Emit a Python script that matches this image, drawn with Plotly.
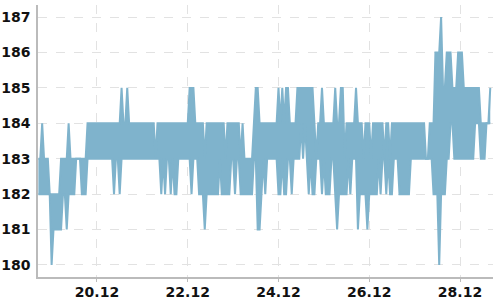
import pandas as pd
import plotly.graph_objects as go

START = "2022-12-18 17:00"

LOW = [
    182, 182, 182, 182, 182, 182, 182, 180, 181, 181,
    181, 181, 181, 182, 182, 181, 182, 182, 182, 182,
    183, 183, 183, 182, 182, 182, 183, 183, 183, 183,
    183, 183, 183, 183, 183, 183, 183, 183, 183, 183,
    182, 183, 183, 182, 183, 183, 183, 183, 183, 183,
    183, 183, 183, 183, 183, 183, 183, 183, 183, 183,
    183, 183, 183, 183, 183, 182, 183, 182, 183, 183,
    182, 183, 182, 182, 183, 183, 183, 183, 183, 183,
    183, 182, 183, 183, 183, 182, 182, 182, 181, 182,
    182, 182, 182, 182, 182, 182, 183, 182, 182, 182,
    182, 182, 183, 183, 182, 183, 183, 182, 182, 182,
    182, 182, 182, 182, 183, 183, 181, 181, 182, 183,
    182, 183, 183, 183, 183, 183, 183, 182, 182, 183,
    182, 182, 183, 183, 182, 183, 183, 183, 183, 184,
    183, 184, 183, 182, 183, 182, 182, 183, 183, 183,
    182, 183, 182, 182, 182, 183, 183, 182, 181, 182,
    182, 182, 182, 182, 183, 182, 183, 183, 183, 181,
    182, 182, 182, 182, 181, 182, 182, 182, 182, 182,
    183, 182, 183, 183, 182, 183, 182, 182, 183, 183,
    183, 182, 182, 182, 182, 182, 182, 183, 183, 183,
    183, 183, 183, 183, 183, 183, 183, 183, 183, 182,
    182, 182, 180, 182, 182, 182, 183, 183, 184, 184,
    183, 183, 183, 183, 183, 183, 183, 183, 183, 183,
    183, 184, 184, 184, 183, 183, 183, 184, 184, 184,
]

HIGH = [
    183, 183, 184, 183, 183, 183, 182, 182, 182, 182,
    182, 182, 183, 183, 183, 183, 184, 183, 183, 183,
    183, 183, 183, 183, 183, 183, 184, 184, 184, 184,
    184, 184, 184, 184, 184, 184, 184, 184, 184, 184,
    184, 184, 184, 184, 185, 184, 184, 185, 184, 184,
    184, 184, 184, 184, 184, 184, 184, 184, 184, 184,
    184, 184, 183, 184, 184, 184, 184, 184, 184, 184,
    184, 184, 184, 184, 184, 184, 184, 184, 184, 184,
    185, 185, 185, 184, 184, 184, 184, 184, 183, 184,
    184, 184, 184, 184, 184, 184, 184, 184, 184, 183,
    184, 184, 184, 184, 184, 184, 184, 183, 184, 183,
    183, 183, 183, 183, 184, 185, 185, 184, 184, 184,
    184, 184, 184, 184, 184, 184, 184, 185, 184, 185,
    184, 185, 185, 184, 184, 184, 184, 185, 185, 185,
    185, 185, 185, 185, 185, 185, 184, 183, 184, 184,
    185, 184, 184, 184, 184, 184, 184, 185, 184, 184,
    185, 185, 183, 184, 184, 184, 184, 184, 185, 184,
    184, 184, 183, 184, 184, 184, 183, 184, 184, 184,
    184, 184, 184, 183, 184, 184, 183, 184, 184, 184,
    184, 184, 184, 184, 184, 184, 184, 184, 184, 184,
    184, 184, 184, 184, 184, 183, 183, 184, 184, 184,
    186, 186, 186, 187, 185, 185, 186, 186, 186, 185,
    185, 185, 186, 186, 186, 185, 185, 185, 185, 185,
    185, 185, 185, 185, 184, 184, 184, 184, 184, 185,
]

Y_TICKS = [180, 181, 182, 183, 184, 185, 186, 187]

times = pd.date_range(START, periods=len(LOW), freq="1h")

COLOR = "#7fb3cc"

fig = go.Figure()
fig.add_trace(go.Scatter(
    x=times, y=LOW, mode="lines",
    line=dict(color=COLOR, width=2),
    showlegend=False, hoverinfo="skip",
))
fig.add_trace(go.Scatter(
    x=times, y=HIGH, mode="lines",
    line=dict(color=COLOR, width=2),
    fill="tonexty", fillcolor=COLOR,
    showlegend=False, hoverinfo="skip",
))

tick_font = dict(family="DejaVu Sans", size=14, color="#111111", weight="bold")

fig.update_layout(
    width=500, height=300,
    margin=dict(l=38, r=7, t=5, b=23),
    paper_bgcolor="white", plot_bgcolor="white",
    xaxis=dict(
        type="date",
        range=["2022-12-18 16:48", "2022-12-28 17:27"],
        tick0="2022-12-20", dtick=2 * 86400000,
        tickformat="%d.%m",
        showgrid=True, gridcolor="#e2e2e2", griddash="dash", gridwidth=1,
        showline=True, linecolor="#bbbbbb", linewidth=1.5,
        ticks="outside", ticklen=3, tickcolor="#bbbbbb",
        ticklabelstandoff=-2,
        tickfont=tick_font,
        zeroline=False, automargin=False,
    ),
    yaxis=dict(
        range=[179.66, 187.34],
        tickvals=Y_TICKS,
        showgrid=True, gridcolor="#e2e2e2", griddash="dash", gridwidth=1,
        showline=True, linecolor="#bbbbbb", linewidth=1.5,
        ticks="", ticklabelstandoff=3,
        tickfont=tick_font,
        zeroline=False, automargin=False,
    ),
)

fig.write_html("out.html")
